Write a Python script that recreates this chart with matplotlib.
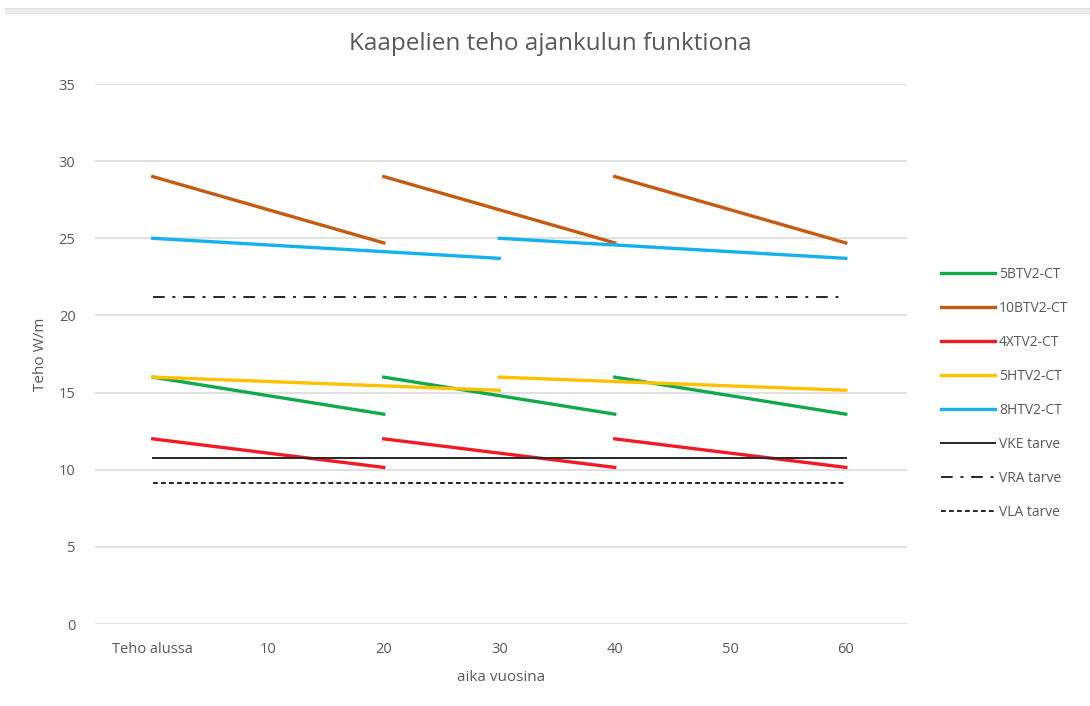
import numpy as np
import matplotlib
matplotlib.use("Agg")
import matplotlib.pyplot as plt
from matplotlib.patches import Rectangle

nan = np.nan

# x positions in years; NaN breaks the line where a cable is renewed
x_20y = [0, 20, nan, 20, 40, nan, 40, 60]
x_30y = [0, 30, nan, 30, 60]
x_full = [0, 60]

tick_positions = [0, 10, 20, 30, 40, 50, 60]
tick_labels = ["Teho alussa", "10", "20", "30", "40", "50", "60"]

bt5 = [16.0, 13.6, nan, 16.0, 13.6, nan, 16.0, 13.6]
bt10 = [29.0, 24.7, nan, 29.0, 24.7, nan, 29.0, 24.7]
xt4 = [12.0, 10.15, nan, 12.0, 10.15, nan, 12.0, 10.15]
ht5 = [16.0, 15.15, nan, 16.0, 15.15]
ht8 = [25.0, 23.7, nan, 25.0, 23.7]
vke = [10.75, 10.75]
vra = [21.2, 21.2]
vla = [9.15, 9.15]

plt.rcParams["font.family"] = ["Open Sans", "DejaVu Sans"]
text_col = "#595959"

fig = plt.figure(figsize=(10.9, 7.06), dpi=100)
fig.patch.set_facecolor("white")

# faint spreadsheet band along the top edge
fig.add_artist(Rectangle((0.005, 1 - 13 / 706), 0.995, 5 / 706,
                         transform=fig.transFigure, facecolor="#ececec",
                         edgecolor="#dcdcdc", lw=0.6))

ax = fig.add_axes([95 / 1090, 1 - 624 / 706, (907 - 95) / 1090, (624 - 84) / 706])
ax.set_xlim(-5, 65.3)
ax.set_ylim(0, 35)

lw = 2.4
ax.plot(x_20y, bt5, color="#14a84c", lw=lw, label="5BTV2-CT")
ax.plot(x_20y, bt10, color="#c55a11", lw=lw, label="10BTV2-CT")
ax.plot(x_20y, xt4, color="#f01b24", lw=lw, label="4XTV2-CT")
ax.plot(x_30y, ht5, color="#ffc000", lw=lw, label="5HTV2-CT")
ax.plot(x_30y, ht8, color="#15b0ee", lw=lw, label="8HTV2-CT")
ax.plot(x_full, vke, color="#262626", lw=1.4, label="VKE tarve")
ax.plot(x_full, vra, color="#262626", lw=1.4, dashes=(6, 4, 1.5, 4), label="VRA tarve")
ax.plot(x_full, vla, color="#262626", lw=1.4, dashes=(2.5, 1.6), label="VLA tarve")

ax.set_yticks(range(0, 36, 5))
ax.set_xticks(tick_positions)
ax.set_xticklabels(tick_labels)
ax.grid(axis="y", color="#d9d9d9", lw=1.1)
ax.set_axisbelow(True)
for s in ax.spines.values():
    s.set_visible(False)
ax.tick_params(length=0, colors=text_col, labelsize=10.5)
ax.tick_params(axis="y", pad=14)
ax.tick_params(axis="x", pad=13)

ax.set_xlabel("aika vuosina", color=text_col, fontsize=11, labelpad=9)
ax.set_ylabel("Teho W/m", color=text_col, fontsize=11, labelpad=8)

fig.text(550 / 1090, 1 - 44 / 706, "Kaapelien teho ajankulun funktiona",
         ha="center", va="center", fontsize=17.5, color=text_col)

leg = fig.legend(loc="upper left", bbox_to_anchor=(928 / 1090, 1 - 254 / 706),
                 frameon=False, fontsize=10, handlelength=3.9,
                 handletextpad=0.3, labelspacing=1.37, labelcolor=text_col)

fig.savefig("out.png", dpi=100, facecolor="white")
